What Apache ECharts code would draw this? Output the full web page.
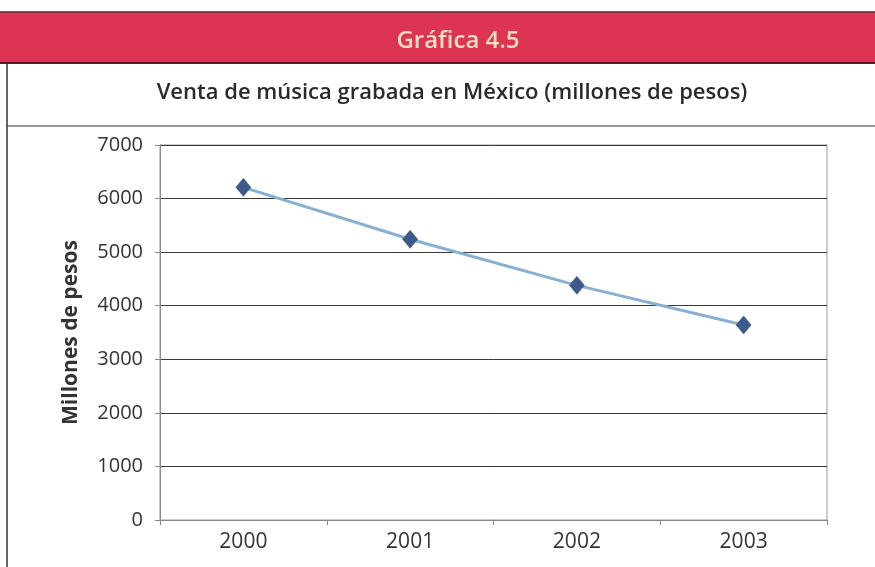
<!DOCTYPE html>
<html><head><meta charset="utf-8">
<script src="https://cdn.jsdelivr.net/npm/echarts@6/dist/echarts.min.js"></script>
<style>html,body{margin:0;padding:0;background:#fff}#c{width:875px;height:567px}</style>
</head><body><div id="c"></div>
<script>
var years = ['2000', '2001', '2002', '2003'];
var sales = [6210, 5240, 4380, 3640];
var yTicks = [0, 1000, 2000, 3000, 4000, 5000, 6000, 7000];
var headerText = 'Gráfica 4.5';
var titleText = 'Venta de música grabada en México (millones de pesos)';
var yName = 'Millones de pesos';

var chart = echarts.init(document.getElementById('c'), null, {renderer: 'canvas'});
chart.setOption({
  animation: false,
  backgroundColor: '#fff',
  graphic: [
    {type: 'rect', shape: {x: 0, y: 12, width: 875, height: 51}, style: {fill: '#dc3452'}, z: 0},
    {type: 'line', shape: {x1: 0, y1: 12, x2: 875, y2: 12}, style: {stroke: '#5a2a30', lineWidth: 1.5}},
    {type: 'line', shape: {x1: 0, y1: 63, x2: 875, y2: 63}, style: {stroke: '#5a1a22', lineWidth: 2}},
    {type: 'text', x: 458, y: 41, style: {text: headerText, fill: '#f6dfc0', font: '600 24px "Open Sans", sans-serif', align: 'center', verticalAlign: 'middle'}},
    {type: 'text', x: 452, y: 93, style: {text: titleText, fill: '#2a2a2a', font: '600 22px "Open Sans", sans-serif', align: 'center', verticalAlign: 'middle'}},
    {type: 'line', shape: {x1: 7, y1: 126, x2: 875, y2: 126}, style: {stroke: '#333', lineWidth: 1.2}},
    {type: 'line', shape: {x1: 7, y1: 64, x2: 7, y2: 567}, style: {stroke: '#333', lineWidth: 1.5}},
    {type: 'rect', shape: {x: 160, y: 145, width: 667, height: 375}, style: {fill: 'none', stroke: '#999', lineWidth: 1}}
  ],
  grid: {left: 160, right: 48, top: 145, bottom: 47},
  xAxis: {
    type: 'category', data: years, boundaryGap: true,
    axisLine: {lineStyle: {color: '#888'}},
    axisTick: {show: true, alignWithLabel: false, length: 5, lineStyle: {color: '#888'}},
    axisLabel: {color: '#333', fontSize: 21, margin: 12, fontFamily: 'Open Sans'}
  },
  yAxis: {
    type: 'value', min: yTicks[0], max: yTicks[yTicks.length - 1], interval: 1000,
    name: yName, nameLocation: 'middle', nameGap: 78,
    nameTextStyle: {color: '#333', fontSize: 21, fontWeight: 'bold', fontFamily: 'Open Sans'},
    axisLine: {show: true, lineStyle: {color: '#888'}},
    axisTick: {show: true, length: 5, lineStyle: {color: '#888'}},
    axisLabel: {color: '#333', fontSize: 20, margin: 17, fontFamily: 'Open Sans', formatter: function (v) { return String(v); }},
    splitLine: {lineStyle: {color: '#3a3a3a', width: 1}}
  },
  series: [{
    type: 'line', data: sales,
    symbol: 'diamond', symbolSize: [15, 18],
    lineStyle: {color: '#86b0d4', width: 3},
    itemStyle: {color: '#3e5a8c', borderColor: '#2e4470', borderWidth: 0.5}
  }]
});
</script></body></html>
